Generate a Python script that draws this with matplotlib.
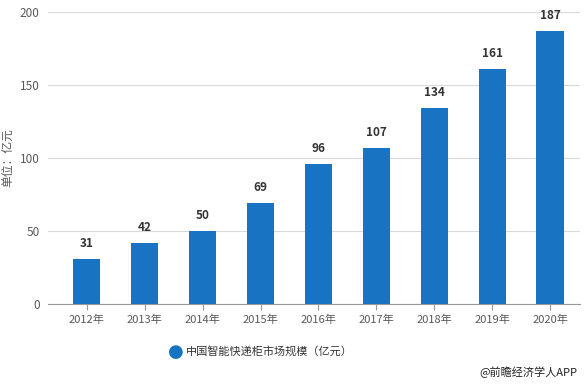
import matplotlib.pyplot as plt
plt.rcParams['font.family'] = ['Noto Sans CJK SC', 'DejaVu Sans']

years = ['2012年', '2013年', '2014年', '2015年', '2016年', '2017年', '2018年', '2019年', '2020年']
values = [31, 42, 50, 69, 96, 107, 134, 161, 187]
yticks = [0, 50, 100, 150, 200]

blue = '#1874c3'
fig = plt.figure(figsize=(5.86, 3.85), dpi=100)
ax = fig.add_axes([0.082, 0.21, 0.908, 0.76])

x = range(len(years))
ax.bar(x, values, width=0.47, color=blue, zorder=3)
for i, v in zip(x, values):
    ax.text(i, v + 6, str(v), ha='center', va='bottom', fontsize=8.5,
            fontweight='bold', color='#333333')

ax.set_xlim(-0.67, 8.52)
ax.set_ylim(0, 200)
ax.set_yticks(yticks)
ax.set_xticks(list(x))
ax.set_xticklabels(years)
ax.yaxis.grid(True, color='#d9d9d9', linewidth=0.8)
ax.set_axisbelow(True)
for s in ['top', 'right', 'left']:
    ax.spines[s].set_visible(False)
ax.spines['bottom'].set_color('#999999')
ax.tick_params(axis='y', length=0, labelsize=8.5, labelcolor='#595959', pad=6)
ax.tick_params(axis='x', length=4, color='#999999', labelsize=8, labelcolor='#595959')
ax.set_ylabel('单位：亿元', fontsize=8.5, color='#595959', labelpad=4)

fig.text(0.300, 0.086, '●', color=blue, fontsize=13, ha='center', va='center',
         family=['DejaVu Sans'])
fig.text(0.318, 0.086, '中国智能快递柜市场规模（亿元）', fontsize=8, color='#333333',
         ha='left', va='center')
fig.text(0.985, 0.033, '@前瞻经济学人APP', fontsize=8, color='#222222',
         ha='right', va='center')

plt.savefig('out.png')
